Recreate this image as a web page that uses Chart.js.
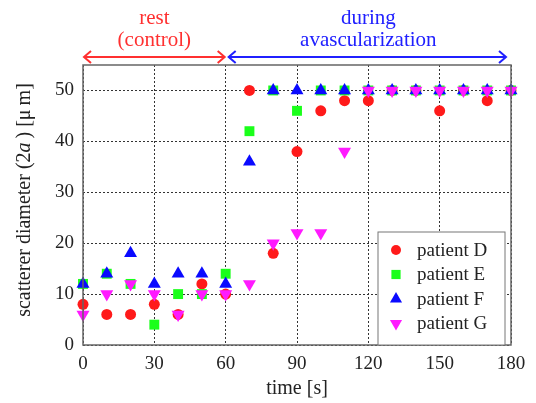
<!DOCTYPE html>
<html>
<head>
<meta charset="utf-8">
<script src="https://cdn.jsdelivr.net/npm/chart.js@4/dist/chart.umd.min.js"></script>
<style>
  html, body { margin: 0; background: #fff; }
</style>
</head>
<body>
<canvas id="chart" width="536" height="403"></canvas>
<script>
// data (time in s, diameter in um)
const times = [0, 10, 20, 30, 40, 50, 60, 70, 80, 90, 100, 110, 120, 130, 140, 150, 160, 170, 180];
const patientD = [8, 6, 6, 8, 6, 12, 10, 50, 18, 38, 46, 48, 48, 50, 50, 46, 50, 48, 50];
const patientE = [12, 14, 12, 4, 10, 10, 14, 42, 50, 46, 50, 50, 50, 50, 50, 50, 50, 50, 50];
const patientF = [12, 14, 18, 12, 14, 14, 12, 36, 50, 50, 50, 50, 50, 50, 50, 50, 50, 50, 50];
const patientG = [6, 10, 12, 10, 6, 10, 10, 12, 20, 22, 22, 38, 50, 50, 50, 50, 50, 50, 50];

const seriesNames = ['patient D', 'patient E', 'patient F', 'patient G'];
const xTicks = [0, 30, 60, 90, 120, 150, 180];
const yTicks = [0, 10, 20, 30, 40, 50];

const phaseLabels = [['rest', '(control)'], ['during', 'avascularization']];
const phaseRanges = [[0, 60], [60, 180]];

const FONT = '"Liberation Serif", "DejaVu Serif", serif';
const styles = [
  { color: '#ff1a1a', pointStyle: 'circle', radius: 5.5, rotation: 0 },
  { color: '#1aff1a', pointStyle: 'rect', radius: 7, rotation: 0 },
  { color: '#0a0aff', pointStyle: 'triangle', radius: 7.5, rotation: 0 },
  { color: '#ff1aff', pointStyle: 'triangle', radius: 7.5, rotation: 180 }
];
const phaseColors = ['#ff3030', '#2020ff'];

function toPoints(values) {
  return times.map((t, i) => ({ x: t, y: values[i] }));
}

const seriesValues = [patientD, patientE, patientF, patientG];
const datasets = seriesValues.map((vals, i) => ({
  label: seriesNames[i],
  data: toPoints(vals),
  pointStyle: styles[i].pointStyle,
  pointRadius: styles[i].radius,
  pointRotation: styles[i].rotation,
  backgroundColor: styles[i].color,
  borderColor: styles[i].color,
  borderWidth: 0,
  clip: false,
  order: 3 - i // patient G ends up on top
}));

function drawArrow(ctx, x0, x1, yy, color) {
  ctx.strokeStyle = color;
  ctx.lineWidth = 2;
  ctx.beginPath();
  ctx.moveTo(x0, yy); ctx.lineTo(x1, yy);
  ctx.moveTo(x0 + 7, yy - 6); ctx.lineTo(x0, yy); ctx.lineTo(x0 + 7, yy + 6);
  ctx.moveTo(x1 - 7, yy - 6); ctx.lineTo(x1, yy); ctx.lineTo(x1 - 7, yy + 6);
  ctx.stroke();
}

const decor = {
  id: 'decor',
  afterDraw(chart) {
    const { ctx, chartArea: a, scales: { x } } = chart;
    ctx.save();

    // plot frame
    ctx.strokeStyle = '#666';
    ctx.lineWidth = 1.5;
    ctx.strokeRect(a.left, a.top, a.right - a.left, a.bottom - a.top);

    // x title
    ctx.fillStyle = '#222';
    ctx.font = '20px ' + FONT;
    ctx.textAlign = 'center';
    ctx.textBaseline = 'middle';
    ctx.fillText('time [s]', (a.left + a.right) / 2, 389);

    // y title, with italic a
    const parts = [['scatterer diameter (2', false], ['a', true], ['\u2009) [μ\u2009m]', false]];
    ctx.save();
    ctx.translate(25, 200);
    ctx.rotate(-Math.PI / 2);
    ctx.textAlign = 'left';
    let total = 0;
    parts.forEach(p => {
      ctx.font = (p[1] ? 'italic ' : '') + '20px ' + FONT;
      total += ctx.measureText(p[0]).width;
    });
    let cx = -total / 2;
    parts.forEach(p => {
      ctx.font = (p[1] ? 'italic ' : '') + '20px ' + FONT;
      ctx.fillText(p[0], cx, 0);
      cx += ctx.measureText(p[0]).width;
    });
    ctx.restore();

    // phase annotations above the plot
    phaseRanges.forEach((r, i) => {
      const x0 = x.getPixelForValue(r[0]) + 1;
      const x1 = x.getPixelForValue(r[1]) - 1;
      drawArrow(ctx, x0 + (i ? 2 : 0), x1 - (i ? 4 : 0), 57, phaseColors[i]);
      ctx.fillStyle = phaseColors[i];
      ctx.font = '21px ' + FONT;
      ctx.textAlign = 'center';
      const mid = (x0 + x1) / 2;
      ctx.fillText(phaseLabels[i][0], mid, 18);
      ctx.fillText(phaseLabels[i][1], mid, 40);
    });

    // legend box inside the plot, bottom right
    const lw = 127, lh = 113;
    const lx = a.right - 6 - lw, ly = a.bottom - lh;
    ctx.fillStyle = '#fff';
    ctx.fillRect(lx, ly, lw, lh);
    ctx.strokeStyle = '#777';
    ctx.lineWidth = 1;
    ctx.strokeRect(lx, ly, lw, lh);
    ctx.font = '19px ' + FONT;
    ctx.textAlign = 'left';
    seriesNames.forEach((name, i) => {
      const yy = ly + 18 + i * 24.5;
      ctx.fillStyle = styles[i].color;
      Chart.helpers.drawPoint(ctx, {
        pointStyle: styles[i].pointStyle,
        radius: styles[i].radius - 0.5,
        rotation: styles[i].rotation,
        borderWidth: 0
      }, lx + 18, yy);
      ctx.fillStyle = '#222';
      ctx.fillText(name, lx + 39, yy + 1);
    });

    ctx.restore();
  }
};

const gridOpts = { color: '#333', lineWidth: 1, drawTicks: false };

new Chart(document.getElementById('chart'), {
  type: 'scatter',
  data: { datasets: datasets },
  options: {
    responsive: false,
    animation: false,
    devicePixelRatio: 1,
    layout: { padding: { top: 65, right: 25, left: 0, bottom: 0 } },
    plugins: { legend: { display: false }, tooltip: { enabled: false } },
    scales: {
      x: {
        type: 'linear',
        min: 0,
        max: 180,
        afterBuildTicks: s => { s.ticks = xTicks.map(v => ({ value: v })); },
        afterFit: s => { s.height = 58; },
        grid: gridOpts,
        border: { display: false, dash: [2, 2] },
        ticks: { color: '#222', padding: 8, font: { family: FONT, size: 19 } }
      },
      y: {
        type: 'linear',
        min: 0,
        max: 55,
        afterBuildTicks: s => { s.ticks = yTicks.map(v => ({ value: v })); },
        afterFit: s => { s.width = 83; },
        grid: gridOpts,
        border: { display: false, dash: [2, 2] },
        ticks: { color: '#222', padding: 9, font: { family: FONT, size: 19 } }
      }
    }
  },
  plugins: [decor]
});
</script>
</body>
</html>
